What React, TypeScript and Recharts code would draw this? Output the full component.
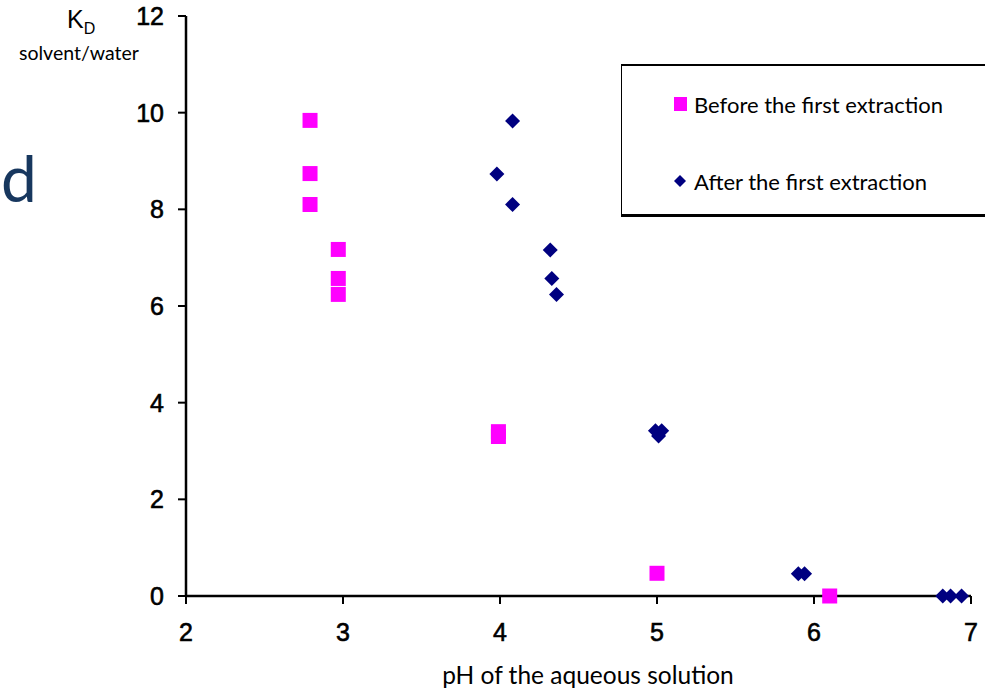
import { Legend, Scatter, ScatterChart, XAxis, YAxis } from "recharts";

// pH of the aqueous phase and K_D (solvent/water)
const beforePH = [2.79, 2.79, 2.79, 2.97, 2.97, 2.97, 3.99, 3.99, 5.0, 6.1];
const beforeKD = [9.84, 8.74, 8.1, 7.17, 6.57, 6.24, 3.4, 3.3, 0.47, 0];
const afterPH = [4.08, 3.98, 4.08, 4.32, 4.33, 4.36, 4.99, 5.03, 5.01, 5.9, 5.94, 6.82, 6.87, 6.94];
const afterKD = [9.83, 8.73, 8.1, 7.16, 6.57, 6.24, 3.42, 3.42, 3.31, 0.46, 0.46, 0, 0, 0];

const seriesNames = ["Before the first extraction", "After the first extraction"];
const xTicks = [2, 3, 4, 5, 6, 7];
const yTicks = [0, 2, 4, 6, 8, 10, 12];

const PINK = "#ff00ff";
const NAVY = "#000080";

const before = beforePH.map((x, i) => ({ x, y: beforeKD[i] }));
const after = afterPH.map((x, i) => ({ x, y: afterKD[i] }));

const Square = (props: any) => {
  const { cx, cy } = props;
  return <rect x={cx - 7.5} y={cy - 7.5} width={15} height={15} fill={PINK} />;
};

const Diamond = (props: any) => {
  const { cx, cy } = props;
  const r = 7.5;
  return (
    <polygon
      points={`${cx},${cy - r} ${cx + r},${cy} ${cx},${cy + r} ${cx - r},${cy}`}
      fill={NAVY}
    />
  );
};

const tickStyle = {
  fontFamily: "'Liberation Sans', Arial, sans-serif",
  fontSize: 25,
  fill: "#000",
  stroke: "#000",
  strokeWidth: 0.6,
};

const LegendBox = (props: any) => {
  const items = [...(props.payload || [])].sort(
    (a: any, b: any) => seriesNames.indexOf(a.value) - seriesNames.indexOf(b.value)
  );
  return (
    <div
      style={{
        width: 364,
        height: 153,
        boxSizing: "border-box",
        borderTop: "2px solid #000",
        borderLeft: "1.5px solid #000",
        borderBottom: "3px solid #000",
        background: "#fff",
        fontFamily: "Lato, 'Open Sans', sans-serif",
        fontSize: 22,
        color: "#000",
        paddingTop: 24,
      }}
    >
      {items.map((item: any, i: number) => (
        <div
          key={item.value}
          style={{ display: "flex", alignItems: "center", height: 28, marginBottom: i === 0 ? 49 : 0, paddingLeft: 51 }}
        >
          <svg width={16} height={16} style={{ marginRight: 5 }}>
            {item.value === seriesNames[0] ? (
              <rect x={1} y={1} width={13} height={14} fill={PINK} />
            ) : (
              <polygon points="7,2 13,8 7,14 1,8" fill={NAVY} />
            )}
          </svg>
          <span>{item.value}</span>
        </div>
      ))}
    </div>
  );
};

export default function App() {
  return (
    <div style={{ position: "absolute", left: 0, top: 0, width: 985, height: 692, background: "#fff" }}>
      <ScatterChart width={985} height={692} margin={{ top: 16, right: 14, bottom: 36, left: 126 }}>
        <XAxis
          type="number"
          dataKey="x"
          domain={[2, 7]}
          ticks={xTicks}
          height={60}
          axisLine={{ stroke: "#000", strokeWidth: 2.5 }}
          tickLine={{ stroke: "#000", strokeWidth: 2 }}
          tickSize={8}
          tickMargin={19}
          tick={tickStyle}
        />
        <YAxis
          type="number"
          dataKey="y"
          domain={[0, 12]}
          ticks={yTicks}
          width={60}
          axisLine={{ stroke: "#000", strokeWidth: 2.5 }}
          tickLine={{ stroke: "#000", strokeWidth: 2 }}
          tickSize={8}
          tickMargin={14}
          tick={tickStyle}
        />
        <Legend
          layout="vertical"
          align="center"
          verticalAlign="middle"
          wrapperStyle={{ left: 621, top: 64, width: 364, height: 153 }}
          content={<LegendBox />}
        />
        <Scatter name={seriesNames[0]} data={before} fill={PINK} shape={<Square />} isAnimationActive={false} />
        <Scatter name={seriesNames[1]} data={after} fill={NAVY} shape={<Diamond />} isAnimationActive={false} />
        <text x={67} y={28} fontFamily="'Liberation Sans', Arial, sans-serif" fontSize={25} fill="#000">
          K<tspan fontSize={16} dy={6}>D</tspan>
        </text>
        <text x={19} y={60} fontFamily="Lato, sans-serif" fontSize={19.5} fill="#000">
          solvent/water
        </text>
        <text x={1} y={202} fontFamily="Lato, sans-serif" fontSize={64} fill="#17375e">
          d
        </text>
        <text x={588} y={684} textAnchor="middle" fontFamily="Lato, sans-serif" fontSize={24.5} fill="#000">
          pH of the aqueous solution
        </text>
      </ScatterChart>
    </div>
  );
}
